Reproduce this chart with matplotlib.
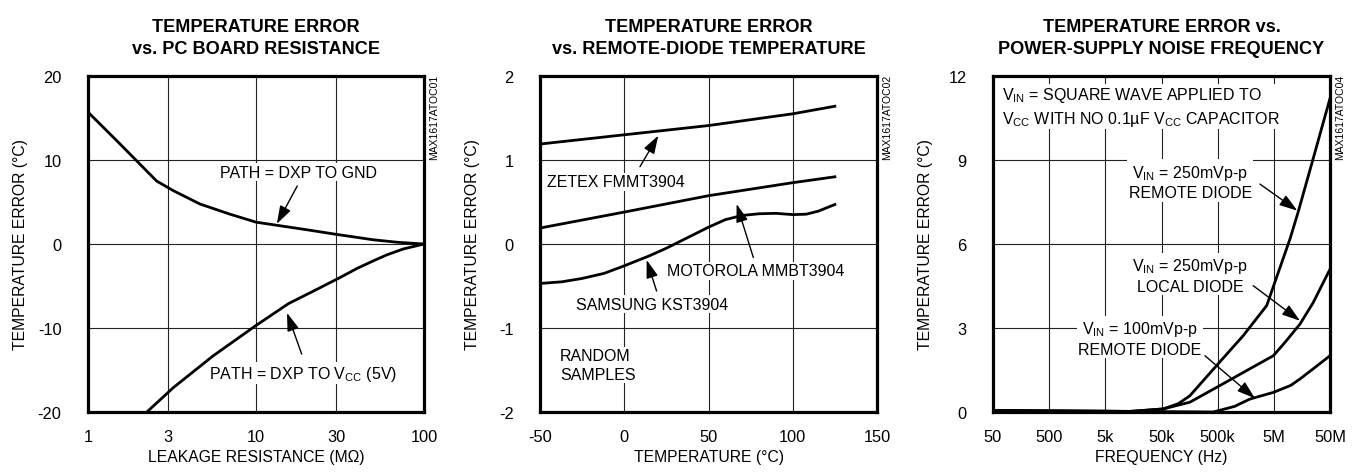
import matplotlib
matplotlib.use("Agg")
import matplotlib.pyplot as plt
from matplotlib import font_manager

# fonts: condensed sans like the datasheet, fall back if missing
names = set(f.name for f in font_manager.fontManager.ttflist)
fam = "Liberation Sans Narrow" if "Liberation Sans Narrow" in names else "Liberation Sans"
plt.rcParams["font.family"] = [fam, "DejaVu Sans"]
plt.rcParams["mathtext.fontset"] = "custom"
plt.rcParams["mathtext.rm"] = fam
plt.rcParams["mathtext.it"] = fam
plt.rcParams["mathtext.bf"] = fam + ":bold"
plt.rcParams["axes.unicode_minus"] = False

# ---- panel 1: temperature error vs PC board resistance ----
res_gnd = [1, 1.5, 2.56, 3.22, 4.64, 7, 10, 20, 30, 50, 70, 100]
err_gnd = [15.7, 12.2, 7.5, 6.35, 4.76, 3.55, 2.6, 1.7, 1.15, 0.5, 0.2, 0]
res_vcc = [2.24, 3.22, 5.57, 10, 15.6, 22, 31.6, 40, 50, 60, 75, 100]
err_vcc = [-20, -17.1, -13.3, -9.7, -7.1, -5.6, -4.0, -2.9, -2.0, -1.3, -0.6, 0]
p1_xticks = [1, 3, 10, 30, 100]
p1_yticks = [-20, -10, 0, 10, 20]

# ---- panel 2: temperature error vs remote-diode temperature ----
temp_zetex = [-50, 0, 50, 100, 125]
err_zetex = [1.19, 1.30, 1.41, 1.55, 1.64]
temp_moto = [-50, 0, 50, 100, 125]
err_moto = [0.19, 0.38, 0.575, 0.73, 0.80]
temp_sams = [-50, -37, -25, -12, 0, 15, 25, 35, 50, 60, 70, 80, 90, 100, 108, 115, 125]
err_sams = [-0.47, -0.45, -0.41, -0.35, -0.26, -0.14, -0.05, 0.05, 0.2, 0.29,
            0.34, 0.36, 0.365, 0.35, 0.355, 0.39, 0.47]
p2_xticks = [-50, 0, 50, 100, 150]
p2_yticks = [-2, -1, 0, 1, 2]

# ---- panel 3: temperature error vs power-supply noise frequency ----
f_rem250 = [50, 13.7e3, 53.8e3, 100e3, 160e3, 479e3, 1.43e6, 3.73e6, 9.7e6, 13.5e6, 25e6, 50e6]
e_rem250 = [0.05, 0.02, 0.11, 0.3, 0.58, 1.66, 2.73, 3.8, 6.18, 7.13, 9.04, 11.2]
f_loc250 = [50, 13.7e3, 53.8e3, 160e3, 479e3, 1.86e6, 4.9e6, 8e6, 14.6e6, 25e6, 50e6]
e_loc250 = [0.05, 0.02, 0.11, 0.35, 0.88, 1.54, 2.01, 2.5, 3.14, 3.9, 5.1]
f_rem100 = [50, 5000, 417e3, 1e6, 1.86e6, 4.9e6, 10e6, 14.6e6, 25e6, 50e6]
e_rem100 = [0.05, 0.03, 0.0, 0.2, 0.46, 0.70, 0.95, 1.18, 1.54, 2.01]
p3_xticks = [50, 500, 5e3, 50e3, 500e3, 5e6, 50e6]
p3_xlabels = ["50", "500", "5k", "50k", "500k", "5M", "50M"]
p3_yticks = [0, 3, 6, 9, 12]

fig = plt.figure(figsize=(13.54, 4.77), dpi=100)
W, H = 1354.0, 477.0
TICK = 11.8
LAB = 11.3
ANN = 11.5

def make_axes(left_px, width_px):
    return fig.add_axes([left_px / W, 1 - 413 / H, width_px / W, 336 / H])

def style(ax, title, xlabel, code):
    for s in ax.spines.values():
        s.set_linewidth(2.3)
        s.set_zorder(6)
    ax.tick_params(length=0, labelsize=TICK)
    ax.tick_params(axis="y", pad=19)
    ax.tick_params(axis="x", pad=12.5)
    ax.grid(True, color="#222222", lw=0.8)
    ax.set_axisbelow(True)
    ax.set_xlabel(xlabel, fontsize=LAB)
    ax.set_ylabel("TEMPERATURE ERROR (°C)", fontsize=LAB)
    ax.xaxis.set_label_coords(0.5, -0.11)
    ax.yaxis.set_label_coords(-0.178, 0.5)
    ax.text(0.5, 1.058, title, transform=ax.transAxes, ha="center", va="bottom",
            fontsize=13.1, fontweight="bold", linespacing=1.38)
    ax.text(1.03, 0.88, code, transform=ax.transAxes, rotation=90,
            ha="center", va="center", fontsize=7.5)

box = dict(facecolor="white", edgecolor="none", pad=1.0)

def label(ax, x, y, s, ha="center"):
    ax.text(x, y, s, transform=ax.transAxes, ha=ha, va="center",
            fontsize=ANN, bbox=box, zorder=3, linespacing=1.3)

def arrow(ax, tail, tip):
    ax.annotate("", xy=tip, xytext=tail, xycoords="data", textcoords="data",
                arrowprops=dict(arrowstyle="-|>,head_length=1.1,head_width=0.36",
                                color="black", lw=1.0, shrinkA=0, shrinkB=0,
                                mutation_scale=10),
                zorder=5)

# panel 1
ax1 = make_axes(88, 336)
ax1.set_xscale("log")
ax1.plot(res_gnd, err_gnd, color="black", lw=2.0, zorder=4)
ax1.plot(res_vcc, err_vcc, color="black", lw=2.0, zorder=4)
ax1.set_xlim(1, 100)
ax1.set_ylim(-20, 20)
ax1.set_xticks(p1_xticks)
ax1.set_xticklabels([str(v) for v in p1_xticks])
ax1.xaxis.set_minor_locator(matplotlib.ticker.NullLocator())
ax1.set_yticks(p1_yticks)
style(ax1, "TEMPERATURE ERROR\nvs. PC BOARD RESISTANCE",
      "LEAKAGE RESISTANCE (MΩ)", "MAX1617ATOC01")
label(ax1, 0.625, 0.714, "PATH = DXP TO GND")
label(ax1, 0.641, 0.116, r"PATH = DXP TO V$_{\mathregular{CC}}$ (5V)")
arrow(ax1, (17.6, 6.9), (13.3, 2.4))
arrow(ax1, (18.7, -13.1), (15.3, -8.2))

# panel 2
ax2 = make_axes(540, 337)
ax2.plot(temp_zetex, err_zetex, color="black", lw=2.0, zorder=4)
ax2.plot(temp_moto, err_moto, color="black", lw=2.0, zorder=4)
ax2.plot(temp_sams, err_sams, color="black", lw=2.0, zorder=4)
ax2.set_xlim(-50, 150)
ax2.set_ylim(-2, 2)
ax2.set_xticks(p2_xticks)
ax2.set_yticks(p2_yticks)
style(ax2, "TEMPERATURE ERROR\nvs. REMOTE-DIODE TEMPERATURE",
      "TEMPERATURE (°C)", "MAX1617ATOC02")
label(ax2, 0.225, 0.685, "ZETEX FMMT3904")
label(ax2, 0.641, 0.420, "MOTOROLA MMBT3904")
label(ax2, 0.334, 0.321, "SAMSUNG KST3904")
label(ax2, 0.059, 0.140, "RANDOM\nSAMPLES", ha="left")
arrow(ax2, (9.3, 0.92), (20.2, 1.29))
arrow(ax2, (76.6, -0.16), (66.7, 0.476))
arrow(ax2, (19.2, -0.56), (13.3, -0.19))

# panel 3
ax3 = make_axes(993, 337)
ax3.set_xscale("log")
ax3.plot(f_rem250, e_rem250, color="black", lw=2.0, zorder=4)
ax3.plot(f_loc250, e_loc250, color="black", lw=2.0, zorder=4)
ax3.plot(f_rem100, e_rem100, color="black", lw=2.0, zorder=4)
ax3.set_xlim(50, 50e6)
ax3.set_ylim(0, 12)
ax3.set_xticks(p3_xticks)
ax3.set_xticklabels(p3_xlabels)
ax3.xaxis.set_minor_locator(matplotlib.ticker.NullLocator())
ax3.set_yticks(p3_yticks)
style(ax3, "TEMPERATURE ERROR vs.\nPOWER-SUPPLY NOISE FREQUENCY",
      "FREQUENCY (Hz)", "MAX1617ATOC04")
label(ax3, 0.026, 0.909,
      "V$_{\\mathregular{IN}}$ = SQUARE WAVE APPLIED TO\n"
      "V$_{\\mathregular{CC}}$ WITH NO 0.1µF V$_{\\mathregular{CC}}$ CAPACITOR", ha="left")
label(ax3, 0.585, 0.686, "V$_{\\mathregular{IN}}$ = 250mVp-p\nREMOTE DIODE")
label(ax3, 0.585, 0.408, "V$_{\\mathregular{IN}}$ = 250mVp-p\nLOCAL DIODE")
label(ax3, 0.436, 0.220, "V$_{\\mathregular{IN}}$ = 100mVp-p\nREMOTE DIODE")
arrow(ax3, (2.83e6, 8.14), (13.1e6, 7.19))
arrow(ax3, (2.15e6, 4.51), (14.6e6, 3.26))
arrow(ax3, (297e3, 2.01), (2.3e6, 0.49))

fig.savefig("out.png", dpi=100, facecolor="white")
